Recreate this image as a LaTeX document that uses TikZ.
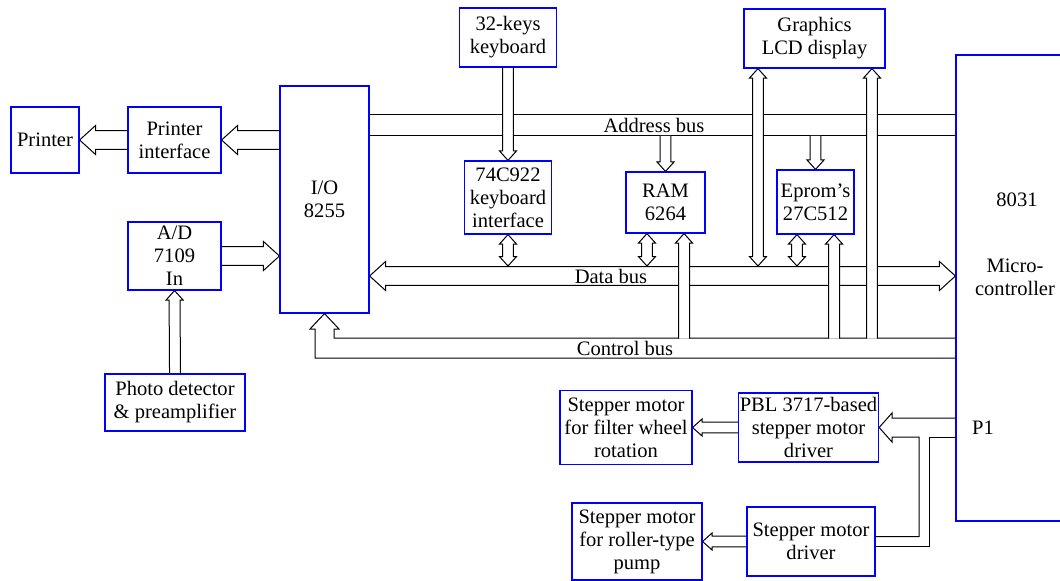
\documentclass[tikz,border=0pt]{standalone}
\usepackage{fontspec}
\setmainfont{Liberation Serif}
\usetikzlibrary{calc,backgrounds}

\tikzset{
  blk/.style={draw=blue, line width=0.9pt, align=center, inner sep=1pt},
  wire/.style={draw=black, line width=0.75pt},
  fat/.style={draw=black, fill=white, line width=0.75pt, line join=miter},
  lbl/.style={inner sep=1pt, align=center},
}

% bus arrow from #1 to tip #2: shaft half width #3, head half width #4, head length #5
\newcommand{\fatarrow}[5]{%
  \path[fat] ($(#1)!#3!90:(#2)$) -- ($($(#2)!#5!(#1)$)!#3!90:(#2)$)
    -- ($($(#2)!#5!(#1)$)!#4!90:(#2)$) -- (#2)
    -- ($($(#2)!#5!(#1)$)!#4!-90:(#2)$) -- ($($(#2)!#5!(#1)$)!#3!-90:(#2)$)
    -- ($(#1)!#3!-90:(#2)$);}
% same, with a head at both ends
\newcommand{\fatboth}[5]{%
  \path[fat] (#1) -- ($($(#1)!#5!(#2)$)!#4!90:(#2)$) -- ($($(#1)!#5!(#2)$)!#3!90:(#2)$)
    -- ($($(#2)!#5!(#1)$)!#3!90:(#2)$) -- ($($(#2)!#5!(#1)$)!#4!90:(#2)$) -- (#2)
    -- ($($(#2)!#5!(#1)$)!#4!-90:(#2)$) -- ($($(#2)!#5!(#1)$)!#3!-90:(#2)$)
    -- ($($(#1)!#5!(#2)$)!#3!-90:(#2)$) -- ($($(#1)!#5!(#2)$)!#4!-90:(#2)$) -- cycle;}
\newcommand{\widebus}[2]{\fatarrow{#1}{#2}{7.1pt}{10.9pt}{12pt}}
\newcommand{\thinbus}[2]{\fatarrow{#1}{#2}{4.1pt}{6.4pt}{7.1pt}}
\newcommand{\widelink}[2]{\fatboth{#1}{#2}{7.1pt}{10.9pt}{12pt}}
\newcommand{\thinlink}[2]{\fatboth{#1}{#2}{4.1pt}{6.4pt}{7.1pt}}

\begin{document}
\begin{tikzpicture}[x=0.75pt, y=-0.75pt, font=\fontsize{15.4}{17.3}\selectfont]
  \useasboundingbox (0,0) rectangle (1060,581);

  % blocks
  \node (printer) at (45,140) [blk, minimum width=51pt, minimum height=49.5pt] {Printer};
  \node (pif) at (174.5,140) [blk, minimum width=69.75pt, minimum height=49.5pt] {Printer\\interface};
  \node (io) at (324.5,199.5) [blk, minimum width=66.75pt, minimum height=170.25pt] {I/O\\8255};
  \node (adc) at (174.5,256) [blk, minimum width=69.75pt, minimum height=51pt] {A/D\\7109\\In};
  \node (photo) at (175,402.5) [blk, minimum width=105pt, minimum height=42.75pt] {Photo detector\\\& preamplifier};
  \node (keys) at (508,37.5) [blk, minimum width=72.75pt, minimum height=44.25pt] {32-keys\\keyboard};
  \node (kbi) at (508,197.5) [blk, minimum width=65.25pt, minimum height=54.75pt] {74C922\\keyboard\\interface};
  \node (ram) at (665.5,202.5) [blk, minimum width=59.25pt, minimum height=45.75pt] {RAM\\6264};
  \node (eprom) at (815.5,202) [blk, minimum width=57.75pt, minimum height=48pt] {Eprom’s\\27C512};
  \node (lcd) at (814.5,38.5) [blk, minimum width=105.75pt, minimum height=44.25pt] {Graphics\\LCD display};
  \node (mcu) at (1009,288) [blk, minimum width=79.5pt, minimum height=349.5pt] {};
  \node (pbl) at (808.5,427.5) [blk, minimum width=104.25pt, minimum height=51.75pt] {PBL 3717-based\\stepper motor\\driver};
  \node (filt) at (626,427.5) [blk, minimum width=99pt, minimum height=55.5pt] {Stepper motor\\for filter wheel\\rotation};
  \node (sdrv) at (811,541.5) [blk, minimum width=96pt, minimum height=51.75pt] {Stepper motor\\driver};
  \node (pump) at (637,541.5) [blk, minimum width=97.5pt, minimum height=57.75pt] {Stepper motor\\for roller-type\\pump};

  \node (mcuname) at (1017,200) [lbl] {8031};
  \node (mcutxt) at (1015,277) [lbl] {Micro-\\controller};
  \node (p1) at (983,428) [lbl] {P1};
  \node (abus) at (654,125.5) [lbl] {Address bus};
  \node (dbus) at (611,276) [lbl] {Data bus};
  \node (cbus) at (625,348) [lbl] {Control bus};

  % bus levels and taps
  \coordinate (ab1) at (0,115);
  \coordinate (ab2) at (0,136);
  \coordinate (db) at (0,276);
  \coordinate (dbt) at (0,266);
  \coordinate (cb1) at (0,338);
  \coordinate (cb2) at (0,358);
  \coordinate (cbt) at (0,338.5);
  \coordinate (p1a) at (0,418);
  \coordinate (p1b) at (0,437);
  \coordinate (sd1) at (0,536.5);
  \coordinate (sd2) at (0,546.5);
  \coordinate (ramD) at ([xshift=-13.9pt]ram.south);
  \coordinate (ramC) at ([xshift=13.9pt]ram.south);
  \coordinate (epD) at ([xshift=-13.9pt]eprom.south);
  \coordinate (epC) at ([xshift=13.9pt]eprom.south);
  \coordinate (lcdD) at ([xshift=-42.4pt]lcd.south);
  \coordinate (lcdC) at ([xshift=43.1pt]lcd.south);

  \begin{scope}[on background layer]
    % address bus
    \draw[wire] (io.east |- ab1) -- (mcu.west |- ab1);
    \draw[wire] (io.east |- ab2) -- (mcu.west |- ab2);
    \thinbus{ram.north |- ab2}{ram.north}
    \thinbus{eprom.north |- ab2}{eprom.north}
    \thinbus{keys.south}{kbi.north}
    % data bus
    \widelink{io.east |- db}{mcu.west |- db}
    \thinlink{kbi.south}{kbi.south |- dbt}
    \thinlink{ramD}{ramD |- dbt}
    \thinlink{epD}{epD |- dbt}
    \thinlink{lcdD}{lcdD |- dbt}
    % control bus
    \path[fat] (mcu.west |- cb1) -- (334,338) -- (334,329) -- (339,329) -- (io.south)
      -- (310,329) -- (315,329) -- (315,358) -- (mcu.west |- cb2);
    \thinbus{ramC |- cbt}{ramC}
    \thinbus{epC |- cbt}{epC}
    \thinbus{lcdC |- cbt}{lcdC}
    % printer, A/D
    \widebus{io.west |- pif.east}{pif.east}
    \widebus{pif.west}{printer.east}
    \widebus{adc.east}{io.west |- adc.east}
    \thinbus{photo.north}{adc.south}
    % port P1 to the stepper drivers
    \draw[wire] (mcu.west |- p1a) -- (892,418) -- (892,413) -- (pbl.east) -- (892,442)
      -- (892,437) -- (919,437) -- (919,536.5) -- (sdrv.east |- sd1);
    \draw[wire] (mcu.west |- p1b) -- (929,437) -- (929,546.5) -- (sdrv.east |- sd2);
    \thinbus{pbl.west}{filt.east}
    \thinbus{sdrv.west}{pump.east}
  \end{scope}
\end{tikzpicture}
\end{document}
